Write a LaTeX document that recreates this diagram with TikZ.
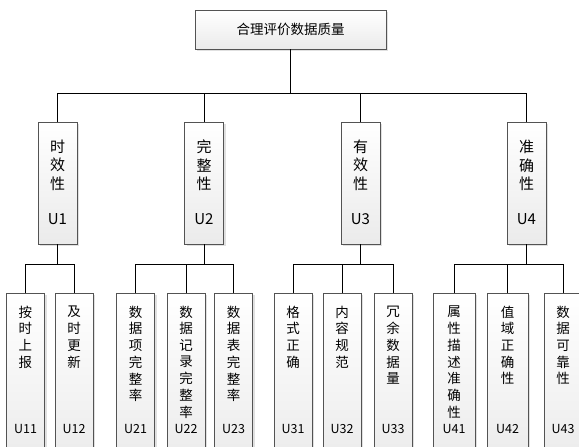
\documentclass[tikz,border=0pt]{standalone}
\usepackage{fontspec}
\setmainfont{Noto Sans CJK SC}
\usetikzlibrary{shadows,calc}
\newcommand\colchars[5]{%
  \foreach \c [count=\i] in {#5} \node[txt] (#1-\i) at (#2,{#3+#4*(\i-1)}) {\c};}
\begin{document}
\begin{tikzpicture}[x=1pt,y=-1pt,
  boxbase/.style={draw=gray!65!black, line width=0.6pt, top color=white, bottom color=gray!16,
     drop shadow={shadow xshift=2pt,shadow yshift=-1.5pt,fill=gray!40,opacity=0.6}, inner sep=0pt},
  topbox/.style={boxbase, minimum width=191pt, minimum height=39pt, font=\fontsize{13.5}{16}\selectfont},
  ltwo/.style={boxbase, minimum width=39pt, minimum height=122pt},
  lthree/.style={boxbase, minimum width=38pt, minimum height=175pt, anchor=north},
  txt/.style={inner sep=0pt, font=\fontsize{13.5}{16}\selectfont},
  lab/.style={inner sep=0pt, font=\fontsize{12.5}{15}\selectfont},
  txtb/.style={inner sep=0pt, font=\fontsize{15}{18}\selectfont},
  conn/.style={draw=black, line width=0.8pt}]
\useasboundingbox (0,0) rectangle (579,447);
\clip (0,0) rectangle (579,447);

% top
\node[topbox] (top) at (290.5,29.5) {合理评价数据质量};

% level 2
\node[ltwo] (u1) at (57.5,183) {};
\node[ltwo] (u2) at (204,183) {};
\node[ltwo] (u3) at (360.5,183) {};
\node[ltwo] (u4) at (526.5,183) {};
\begin{scope}[txt/.style={inner sep=0pt, font=\fontsize{15}{18}\selectfont}]
\colchars{u1t}{57.5}{147}{18.3}{时,效,性}
\colchars{u2t}{204}{147}{18.3}{完,整,性}
\colchars{u3t}{360.5}{147}{18.3}{有,效,性}
\colchars{u4t}{526.5}{147}{18.3}{准,确,性}
\end{scope}
\node[txtb] (u1l) at (57.5,219) {U1};
\node[txtb] (u2l) at (204,219) {U2};
\node[txtb] (u3l) at (360.5,219) {U3};
\node[txtb] (u4l) at (526.5,219) {U4};

% level 3 boxes
\node[lthree] (u11) at (25.5,293) {};
\node[lthree] (u12) at (74,293) {};
\node[lthree] (u21) at (135.5,293) {};
\node[lthree] (u22) at (186,293) {};
\node[lthree] (u23) at (233.5,293) {};
\node[lthree] (u31) at (293,293) {};
\node[lthree] (u32) at (342,293) {};
\node[lthree] (u33) at (393,293) {};
\node[lthree, minimum width=42pt] (u41) at (454,293) {};
\node[lthree, minimum width=41pt] (u42) at (507.5,293) {};
\node[lthree] (u43) at (563,293) {};

% level 3 texts
\colchars{u11t}{25.5}{312}{16.7}{按,时,上,报}
\colchars{u12t}{74}{312}{16.7}{及,时,更,新}
\colchars{u21t}{135.5}{312}{16.7}{数,据,项,完,整,率}
\colchars{u22t}{186}{312}{16.7}{数,据,记,录,完,整,率}
\colchars{u23t}{233.5}{312}{16.7}{数,据,表,完,整,率}
\colchars{u31t}{293}{312}{16.7}{格,式,正,确}
\colchars{u32t}{342}{312}{16.7}{内,容,规,范}
\colchars{u33t}{393}{312}{16.7}{冗,余,数,据,量}
\colchars{u41t}{454}{312}{16.7}{属,性,描,述,准,确,性}
\colchars{u42t}{507.5}{312}{16.7}{值,域,正,确,性}
\colchars{u43t}{563}{312}{16.7}{数,据,可,靠,性}
\node[lab] (u11l) at (25.5,429) {U11};
\node[lab] (u12l) at (74,429) {U12};
\node[lab] (u21l) at (135.5,429) {U21};
\node[lab] (u22l) at (186,429) {U22};
\node[lab] (u23l) at (233.5,429) {U23};
\node[lab] (u31l) at (293,429) {U31};
\node[lab] (u32l) at (342,429) {U32};
\node[lab] (u33l) at (393,429) {U33};
\node[lab] (u41l) at (454,429) {U41};
\node[lab] (u42l) at (507.5,429) {U42};
\node[lab] (u43l) at (563,429) {U43};

% connectors
\coordinate (b0) at ($(top.south)+(0,44)$);
\draw[conn] (top.south) -- (b0);
\foreach \n in {u1,u2,u3,u4} \draw[conn] (\n.north) |- (b0);

\coordinate (b1) at ($(u1.south)+(0,20)$);
\coordinate (b2) at ($(u2.south)+(0,20)$);
\coordinate (b3) at ($(u3.south)+(0,20)$);
\coordinate (b4) at ($(u4.south)+(0,20)$);
\draw[conn] (u1.south) -- (b1);
\draw[conn] (u2.south) -- (b2);
\draw[conn] (u3.south) -- (b3);
\draw[conn] (u4.south) -- (b4);
\foreach \n in {u11,u12} \draw[conn] (\n.north) |- (b1);
\foreach \n in {u21,u22,u23} \draw[conn] (\n.north) |- (b2);
\foreach \n in {u31,u32,u33} \draw[conn] (\n.north) |- (b3);
\foreach \n in {u41,u42,u43} \draw[conn] (\n.north) |- (b4);
\end{tikzpicture}
\end{document}
